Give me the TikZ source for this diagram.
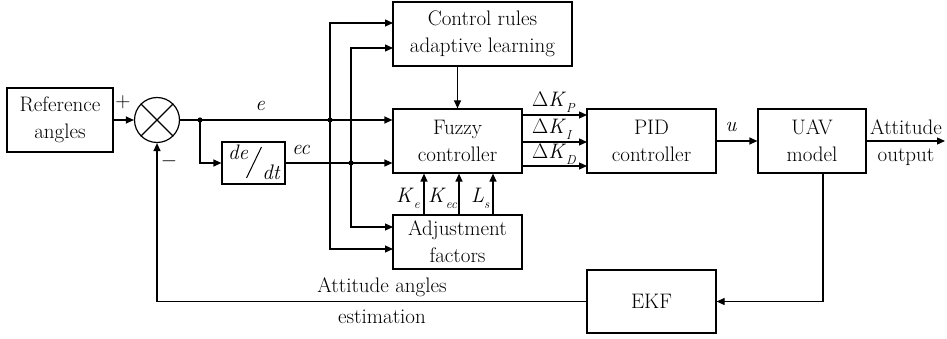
\RequirePackage{fix-cm}
\documentclass[tikz,border=0pt]{standalone}
\usepackage{fontspec}
\usetikzlibrary{arrows.meta}
\newcommand{\mysub}[1]{\raisebox{-6pt}{\fontsize{13}{13}\selectfont\itshape #1}}
\begin{document}
\begin{tikzpicture}[x=1pt,y=-1pt,
  blk/.style={draw, line width=1.2pt, align=center, inner sep=0pt, font=\fontsize{21}{27}\selectfont},
  lbl/.style={inner sep=0pt, font=\fontsize{21}{27}\selectfont},
  arr/.style={-{Triangle[length=8pt,width=7pt]}, line width=1.2pt},
  ln/.style={line width=1.2pt}]
\useasboundingbox (0,0) rectangle (947,339);
% blocks
\node[blk, minimum width=106, minimum height=64] (ref) at (60,120) {Reference\\angles};
\node[draw, line width=1.2pt, circle, minimum size=45, inner sep=0pt] (sum) at (157,120) {};
\draw[ln] (sum.north west) -- (sum.south east) (sum.north east) -- (sum.south west);
\node[blk, minimum width=63, minimum height=42] (dd) at (253.5,163) {};
\node[lbl] (de) at (238,152) {\itshape de};
\node[lbl] (dt) at (271,172) {\itshape dt};
\draw[line width=1pt] (dd.center) ++(-7,15) coordinate (s1) -- ++(15,-31) coordinate (s2);
\node[blk, minimum width=179, minimum height=64] (crl) at (482.5,34) {Control rules\\adaptive learning};
\node[blk, minimum width=129, minimum height=64] (fz) at (457.5,141) {Fuzzy\\controller};
\node[blk, minimum width=129, minimum height=54] (adj) at (457.5,242) {Adjustment\\factors};
\node[blk, minimum width=129, minimum height=64] (pid) at (651.5,141) {PID\\controller};
\node[blk, minimum width=108, minimum height=64] (uav) at (812,141) {UAV\\model};
\node[blk, minimum width=129, minimum height=63] (ekf) at (651.5,301.5) {EKF};
% coordinates
\coordinate (j1) at (200,120);
\coordinate (j2) at (330,120);
\coordinate (j3) at (351,163);
\coordinate (a1) at (393,23);
\coordinate (a2) at (393,48);
\coordinate (a3) at (393,227);
\coordinate (a4) at (393,249);
\coordinate (kp) at (587,115);
\coordinate (ki) at (587,142);
\coordinate (kd) at (587,166);
\coordinate (xe) at (424,0);
\coordinate (xec) at (459,0);
\coordinate (xls) at (493,0);
\coordinate (out) at (945,141);
\coordinate (c1) at (823,0);
% connectors
\draw[arr] (ref.east) -- (sum.west);
\draw[ln] (sum.east) -- (j1);
\draw[arr] (j1) -- (fz.west |- j1);
\draw[arr] (j1) |- (dd.west);
\draw[arr] (dd.east) -- (fz.west |- dd.east);
\draw[arr] (j2) |- (a1);
\draw[arr] (j2) |- (a4);
\draw[arr] (j3) |- (a2);
\draw[arr] (j3) |- (a3);
\fill (j1) circle (2.6) (j2) circle (2.6) (j3) circle (2.6);
\draw[arr] (crl.south -| fz.north) -- (fz.north);
\draw[arr] (fz.east |- kp) -- (kp);
\draw[arr] (fz.east |- ki) -- (ki);
\draw[arr] (fz.east |- kd) -- (kd);
\draw[arr] (adj.north -| xe) -- (fz.south -| xe);
\draw[arr] (adj.north -| xec) -- (fz.south -| xec);
\draw[arr] (adj.north -| xls) -- (fz.south -| xls);
\draw[arr] (pid.east) -- (uav.west);
\draw[arr] (uav.east) -- (out);
\draw[arr] (uav.south -| c1) |- (ekf.east);
\draw[arr] (ekf.west) -| (sum.south);
% labels
\node[lbl] (plus) at (123,102) {$+$};
\node[lbl] (minus) at (169,161) {$-$};
\node[lbl] (le) at (260,106) {\itshape e};
\node[lbl] (lec) at (301,150) {\itshape ec};
\node[lbl, anchor=base west] (lkp) at (532,107) {$\Delta$\textit{K}\mysub{P}};
\node[lbl, anchor=base west] (lki) at (532,134) {$\Delta$\textit{K}\mysub{I}};
\node[lbl, anchor=base west] (lkd) at (532,159) {$\Delta$\textit{K}\mysub{D}};
\node[lbl] (lu) at (731,127) {\itshape u};
\node[lbl] (lat) at (906,127) {Attitude};
\node[lbl] (lout) at (906,157) {output};
\node[lbl, anchor=base west] (lke) at (396,202) {\textit{K}\mysub{e}};
\node[lbl, anchor=base west] (lkec) at (428,202) {\textit{K}\mysub{ec}};
\node[lbl, anchor=base west] (lls) at (471,202) {\textit{L}\mysub{s}};
\node[lbl] (laa) at (382,287) {Attitude angles};
\node[lbl] (lest) at (382,317) {estimation};
\end{tikzpicture}
\end{document}
